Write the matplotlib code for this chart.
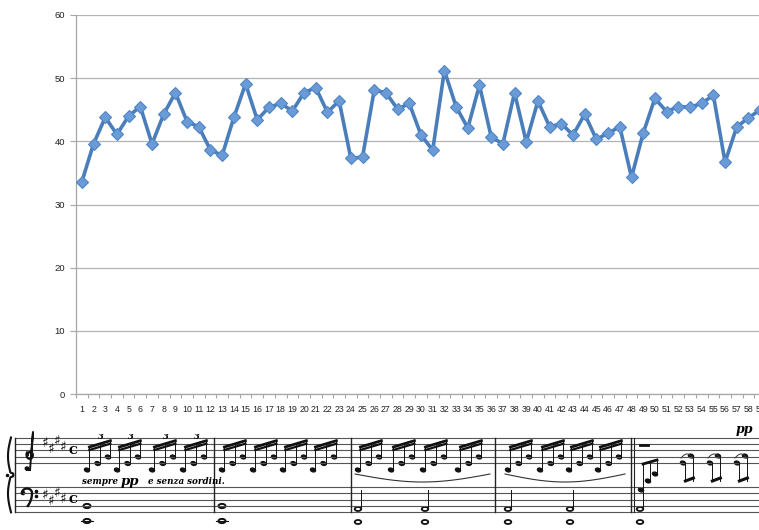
import matplotlib
matplotlib.use("Agg")
import matplotlib.pyplot as plt
from matplotlib.ticker import FixedLocator
from matplotlib.patches import Ellipse
import numpy as np

# ---- data ----
categories = list(range(1, 60))
values = [33.6, 39.6, 43.8, 41.1, 44.0, 45.5, 39.6, 44.3, 47.7, 43.1,
          42.3, 38.6, 37.8, 43.8, 49.1, 43.4, 45.4, 46.0, 44.8, 47.7,
          48.5, 44.6, 46.4, 37.3, 37.5, 48.1, 47.7, 45.1, 46.0, 41.0,
          38.6, 51.2, 45.5, 42.1, 48.9, 40.7, 39.6, 47.7, 39.9, 46.4,
          42.3, 42.8, 41.0, 44.3, 40.3, 41.3, 42.3, 34.3, 41.3, 46.8,
          44.7, 45.5, 45.4, 46.0, 47.3, 36.7, 42.3, 43.7, 45.0]
y_ticks = [0, 10, 20, 30, 40, 50, 60]
score_text = ["sempre", "pp", "e senza sordini."]

W, H = 759, 530
fig = plt.figure(figsize=(W / 100, H / 100), dpi=100)
plt.rcParams['font.family'] = ['Liberation Sans', 'DejaVu Sans']

# main chart axes (extends a bit beyond right edge as in reference)
left_px, right_px, top_px, bot_px = 76, 766, 15, 394
ax = fig.add_axes([left_px / W, 1 - bot_px / H,
                   (right_px - left_px) / W, (bot_px - top_px) / H])
ax.plot(categories, values, color='#4a7ebb', lw=2.6, marker='D',
        markersize=6.2, markerfacecolor='#6b9bd6', markeredgecolor='#4f86c6',
        markeredgewidth=0.8, zorder=3, solid_joinstyle='round')
ax.set_xlim(0.5, len(categories) + 0.5)
ax.set_ylim(0, 60)
ax.yaxis.set_major_locator(FixedLocator(y_ticks))
ax.grid(axis='y', color='#b3b3b3', lw=0.9)
ax.set_axisbelow(True)
for s in ['top', 'right']:
    ax.spines[s].set_visible(False)
for s in ['left', 'bottom']:
    ax.spines[s].set_color('#a6a6a6')
    ax.spines[s].set_linewidth(0.9)
ax.set_xticks(categories)
ax.set_xticklabels([str(c) for c in categories], fontsize=6.3, color='#222222')
ax.xaxis.set_minor_locator(FixedLocator(np.arange(0.5, len(categories) + 1, 1)))
ax.tick_params(axis='x', which='major', length=0, pad=8)
ax.tick_params(axis='x', which='minor', length=3, color='#a6a6a6', width=0.8)
ax.tick_params(axis='y', length=4, color='#a6a6a6', width=0.8,
               labelsize=6.8, labelcolor='#222222', pad=4)
ax.set_facecolor('white')

# ---- decorative score strip (pixel coordinates) ----
sx = fig.add_axes([0, 0, 1, 122 / H])
sx.set_xlim(0, W)
sx.set_ylim(530, 408)
sx.axis('off')
treble = [437.5, 444, 450.3, 456.7, 463]
bass = [487, 493.3, 499.6, 506, 512.3]
for yy in treble + bass:
    sx.plot([15, W], [yy, yy], color='#555555', lw=0.8)
for bx in [15, 214, 351, 495, 631]:
    sx.plot([bx, bx], [treble[0], bass[-1]], color='#222222', lw=1.0)
sx.plot([634, 634], [treble[0], bass[-1]], color='#222222', lw=0.8)
# brace
tb = np.linspace(0, 1, 80)
sx.plot(11 - 3 * np.abs(np.sin(2 * np.pi * tb)) + 2.5 * (np.abs(tb - 0.5) < 0.03),
        treble[0] + (bass[-1] - treble[0]) * tb, color='#111111', lw=1.5)
sx.plot([7], [475], marker='o', ms=1.5, color='#111')

# treble clef drawn as a shape
t = np.linspace(0, 2.2 * np.pi, 120)
r = 2.2 + 1.4 * t / (2.2 * np.pi)
sx.plot(30 + r * np.cos(t + np.pi), 455 + 1.2 * r * np.sin(t + np.pi), color='#111', lw=1.6)
sx.plot([31, 33, 30], [458, 432, 470], color='#111', lw=1.4)
sx.plot([30, 27], [470, 470], color='#111', lw=1.4)
sx.add_patch(Ellipse((27, 468.5), 3.5, 3.0, color='#111'))
# bass clef drawn as a shape
tt = np.linspace(np.pi, -0.45 * np.pi, 60)
sx.plot(27 + 5 * np.cos(tt), 493 - 4.5 * np.sin(tt) + (tt < 0) * (-tt) * 6, color='#111', lw=1.7)
sx.add_patch(Ellipse((23, 493), 3.2, 3.2, color='#111'))
sx.plot([36, 36], [490.5, 496], ls='none', marker='o', ms=1.6, color='#111')
# key signatures
for i, dy in enumerate([0, 6, -2, 4]):
    sx.text(45 + i * 6, 443 + dy, '♯', fontsize=10, ha='center', va='center', color='#111', family=['DejaVu Sans'])
    sx.text(45 + i * 6, 495 + dy, '♯', fontsize=10, ha='center', va='center', color='#111', family=['DejaVu Sans'])
sx.text(73, 450.5, 'C', fontsize=8, ha='center', va='center', fontweight='bold', family=['DejaVu Serif'])
sx.text(73, 499.6, 'C', fontsize=8, ha='center', va='center', fontweight='bold', family=['DejaVu Serif'])


def group(x0, ys, dx=10.5, triplet=False):
    xs = [x0 + i * dx for i in range(len(ys))]
    for x, y in zip(xs, ys):
        sx.add_patch(Ellipse((x, y), 5.2, 3.6, angle=20, color='#111'))
        sx.plot([x + 2.4, x + 2.4], [y, 447 - (x - xs[0]) * 0.3], color='#111', lw=0.7)
    sx.plot([xs[0] + 2.4, xs[-1] + 2.4], [447, 447 - (xs[-1] - xs[0]) * 0.3], color='#111', lw=2.0)
    sx.plot([xs[0] + 2.4, xs[-1] + 2.4], [450, 450 - (xs[-1] - xs[0]) * 0.3], color='#111', lw=1.6)
    if triplet:
        sx.text(xs[1] + 3, 437, '3', fontsize=6, style='italic', ha='center', va='center',
                fontweight='bold', family=['DejaVu Serif'])


for x0 in [87, 117, 152, 183]:
    group(x0, [470, 463.5, 457], triplet=True)
for x0 in [222, 253, 283, 313]:
    group(x0, [470, 463.5, 457])
for x0 in [358, 391, 423, 458]:
    group(x0, [470, 463.5, 457])
for x0 in [508, 540, 569, 598]:
    group(x0, [470, 463.5, 457])
# slurs
for a, b in [(355, 490), (505, 625)]:
    tt2 = np.linspace(0, 1, 40)
    sx.plot(a + (b - a) * tt2, 474 + 8 * np.sin(np.pi * tt2), color='#333', lw=0.8)
# measure 5 figures
for x0 in [683, 710, 737]:
    for x, y in [(x0, 463), (x0 + 8, 456)]:
        sx.add_patch(Ellipse((x, y), 5.2, 3.6, angle=20, color='#111'))
        sx.plot([x + 2.4, x + 2.4], [y, 481], color='#111', lw=0.7)
    sx.plot([x0 + 2.4, x0 + 10.4], [481, 478], color='#111', lw=2.2)
    tt3 = np.linspace(0, 1, 20)
    sx.plot(x0 - 2 + 12 * tt3, 458 - 4 * np.sin(np.pi * tt3), color='#333', lw=0.7)
for x, y in [(641, 490), (648, 481), (655, 474)]:
    sx.add_patch(Ellipse((x, y), 5.2, 3.6, angle=20, color='#111'))
    sx.plot([x + 2.4, x + 2.4], [y, 464 + (x - 641) * -0.3], color='#111', lw=0.7)
sx.plot([643, 657], [464, 460], color='#111', lw=2.0)
sx.plot([640, 648], [445, 445], color='#111', lw=2.0)
# bass notes
for x in [87, 222]:
    sx.add_patch(Ellipse((x, 506), 7, 4.2, fill=False, ec='#111', lw=1.4))
    sx.add_patch(Ellipse((x, 521), 7, 4.2, fill=False, ec='#111', lw=1.4))
    sx.plot([x - 6, x + 6], [521, 521], color='#111', lw=0.8)
for x in [358, 425, 508, 570, 640]:
    sx.add_patch(Ellipse((x, 509), 6.5, 4.0, fill=False, ec='#111', lw=1.3))
    sx.add_patch(Ellipse((x, 522), 6.5, 4.0, fill=False, ec='#111', lw=1.3))
    sx.plot([x + 3, x + 3], [509, 490], color='#111', lw=0.7)
# score text
sx.text(82, 482, score_text[0], fontsize=6.3, style='italic', fontweight='bold',
        family=['DejaVu Serif'], va='center')
sx.text(121, 481, score_text[1], fontsize=9.5, style='italic', fontweight='bold',
        family=['DejaVu Serif'], va='center')
sx.text(148, 482, score_text[2], fontsize=6.3, style='italic', fontweight='bold',
        family=['DejaVu Serif'], va='center')
sx.text(736, 429, score_text[1], fontsize=9, style='italic', fontweight='bold',
        family=['DejaVu Serif'], va='center')

fig.savefig('out.png', dpi=100)
